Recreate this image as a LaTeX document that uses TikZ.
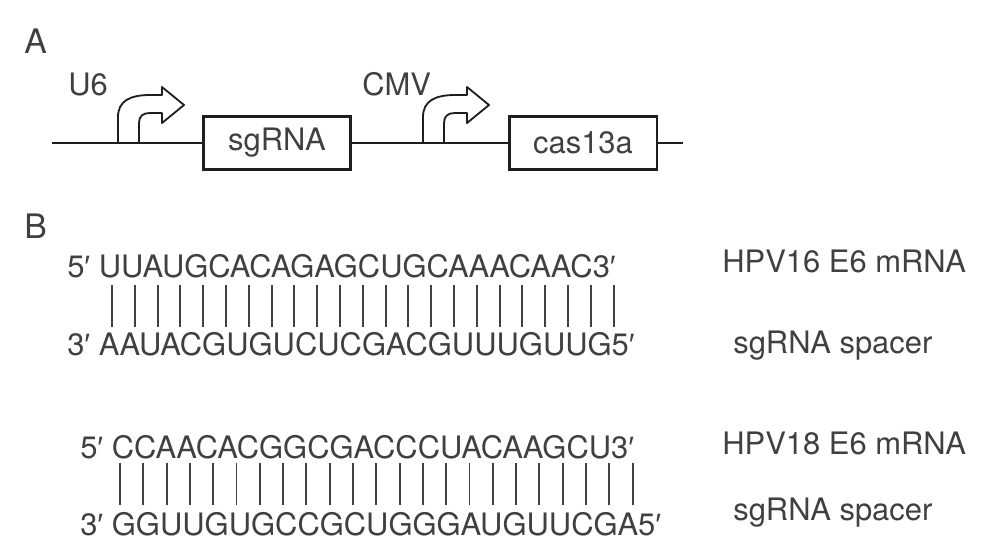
\documentclass[tikz,border=0pt]{standalone}
\usepackage{fontspec}
\setmainfont{TeX Gyre Heros}
\newfontfamily\primefont{Liberation Sans}
\newcommand{\prm}{{\primefont ′}}
\usetikzlibrary{positioning}
\definecolor{ink}{HTML}{404040}
\definecolor{outline}{HTML}{1E1E1E}

\begin{document}
\begin{tikzpicture}[x=0.025cm,y=-0.025cm,
  every node/.style={font=\fontsize{22}{26}\selectfont,text=ink,inner sep=0pt},
  panel/.style={font=\fontsize{24}{28}\selectfont},
  seq/.style={anchor=base west},
  gene/.style={draw=outline,line width=1.6pt,minimum width=3.68cm,minimum height=1.32cm},
  dna/.style={draw=outline,line width=1.3pt},
  pair/.style={draw=ink,line width=1.3pt},
  promoter/.pic={
    \draw[outline,line width=1.3pt,fill=white,line join=round]
      (0,0) -- (0,-26) .. controls (0,-42) and (12,-48) .. (32,-48)
      -- (44,-48) -- (44,-56) -- (66,-38) -- (44,-20) -- (44,-30)
      -- (32,-30) .. controls (25,-30) and (21,-27) .. (21,-20)
      -- (21,0) -- cycle;
  }]
  \useasboundingbox (0,0) rectangle (992,559);
  % A: expression construct
  \node[panel,anchor=base west] (pa) at (24,53) {A};
  \coordinate (l0) at (52,143);
  \coordinate (l1) at (683,143);
  \node[gene] (sg) at (277,143) {sgRNA};
  \node[gene] (cas) at (583,143) {cas13a};
  \draw[dna] (l0) -- (sg.west) (sg.east) -- (cas.west) (cas.east) -- (l1);
  \pic at (118,143) {promoter};
  \pic at (423,143) {promoter};
  \node[seq] (u6) at (68,95) {U6};
  \node[seq] (cmv) at (362,95) {CMV};
  % B: spacer pairing
  \node[panel,anchor=base west] (pb) at (24,238) {B};
  \node[seq] (m16) at (67,277) {5\prm\ UUAUGCACAGAGCUGCAAACAAC3\prm};
  \node[seq] (s16) at (67,355) {3\prm\ AAUACGUGUCUCGACGUUUGUUG5\prm};
  \foreach \i in {0,...,22}
    \draw[pair] ({112+22.8*\i},285) -- ({112+22.8*\i},327);
  \node[seq] (l16) at (722,272) {HPV16 E6 mRNA};
  \node[seq] (sp16) at (733,353) {sgRNA spacer};
  \node[seq] (m18) at (80,458) {5\prm\ CCAACACGGCGACCCUACAAGCU3\prm};
  \node[seq] (s18) at (80,535) {3\prm\ GGUUGUGCCGCUGGGAUGUUCGA5\prm};
  \foreach \i in {0,...,22}
    \draw[pair] ({120+23.3*\i},463) -- ({120+23.3*\i},505);
  \node[seq] (l18) at (722,454) {HPV18 E6 mRNA};
  \node[seq] (sp18) at (733,520) {sgRNA spacer};
\end{tikzpicture}
\end{document}
